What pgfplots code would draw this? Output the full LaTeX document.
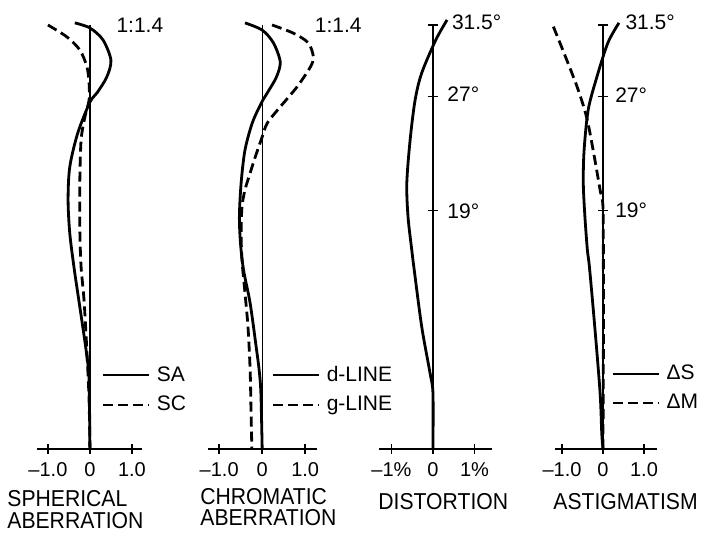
\documentclass[border=0pt]{standalone}
\usepackage{fontspec}
\setmainfont{Liberation Sans}
\newfontfamily\titlefont{Liberation Sans}[FakeStretch=0.92]
\usepackage{pgfplots}
\pgfplotsset{compat=1.18}
\tikzset{lab/.style={font=\fontsize{10.5}{12}\selectfont, inner sep=0pt}}
\pgfplotsset{
  curve/.style={black, line width=1.4pt, smooth, no marks, solid},
  dcurve/.style={black, line width=1.4pt, smooth, no marks, dash pattern=on 5pt off 2.5pt},
}
\begin{document}
\begin{tikzpicture}
\path[use as bounding box] (0pt,0pt) rectangle (351pt,267.5pt);
\pgfplotsset{
  aberr/.style={
    anchor=south west,
    y=212pt, ymin=0, ymax=1,
    axis lines=center,
    x axis line style={-, line width=1pt},
    y axis line style={-, line width=0.6pt},
    clip=false,
    ytick=\empty,
    xtick={-1,0,1},
    hide obscured x ticks=false,
    major tick length=5pt,
    tick align=center,
    tick style={black, line width=0.7pt},
    xticklabel style={font=\fontsize{10}{11}\selectfont, anchor=base, yshift=-11.5pt},
    legend style={draw=none, fill=none, anchor=west, font=\fontsize{10.5}{12}\selectfont, row sep=2pt, inner sep=0pt, cells={anchor=west}},
    legend image code/.code={\draw[##1, line width=0.9pt] (0pt,0pt) -- (23pt,0pt); \path (24pt,0pt);},
  },
}
% ---------- Spherical aberration
\begin{axis}[aberr, at={(18.5pt,43pt)}, x=21pt, xmin=-1.26, xmax=1.24,
  xticklabels={--1.0,0,1.0},
  legend style={at={(axis cs:0.29,0.139)}}]
\addplot[curve] coordinates {(-0.36,1.005) (0,0.993) (0.31,0.965) (0.50,0.917) (0.40,0.877) (0.17,0.840) (0,0.818) (-0.29,0.745) (-0.48,0.665) (-0.52,0.587) (-0.48,0.509) (-0.38,0.429) (-0.29,0.368) (-0.17,0.288) (-0.07,0.217) (-0.02,0.163) (0,0)};
\addlegendentry{SA}
\addplot[dcurve] coordinates {(-1.0,1.0) (-0.55,0.972) (-0.24,0.941) (-0.07,0.901) (-0.02,0.863) (-0.02,0.823) (-0.12,0.783) (-0.21,0.729) (-0.24,0.634) (-0.24,0.517) (-0.21,0.429) (-0.14,0.351) (-0.07,0.226) (-0.02,0.116) (0,0)};
\addlegendentry{SC}
\node[lab] at (axis cs:1.19,0.999) {1:1.4};
\end{axis}
% ---------- Chromatic aberration
\begin{axis}[aberr, at={(104pt,43pt)}, x=21.5pt, xmin=-1.26, xmax=1.28,
  xticklabels={--1.0,0,1.0},
  legend style={at={(axis cs:0.23,0.139)}}]
\addplot[curve] coordinates {(-0.40,1.005) (0,0.988) (0.26,0.958) (0.42,0.913) (0.33,0.877) (0.12,0.840) (-0.02,0.816) (-0.23,0.769) (-0.40,0.705) (-0.49,0.627) (-0.53,0.547) (-0.50,0.480) (-0.43,0.420) (-0.28,0.344) (-0.14,0.241) (-0.07,0.186) (-0.03,0.132) (0,0)};
\addlegendentry{d-LINE}
\addplot[dcurve] coordinates {(0.23,1.0) (0.72,0.981) (1.07,0.958) (1.19,0.925) (1.12,0.901) (0.81,0.854) (0.42,0.807) (0.12,0.769) (0,0.736) (-0.16,0.689) (-0.28,0.651) (-0.40,0.611) (-0.47,0.571) (-0.49,0.509) (-0.47,0.446) (-0.40,0.368) (-0.33,0.288) (-0.28,0.186) (-0.26,0.092) (-0.24,0)};
\addlegendentry{g-LINE}
\node[lab] at (axis cs:1.77,0.999) {1:1.4};
\end{axis}
% ---------- Distortion
\begin{axis}[aberr, at={(189.5pt,43pt)}, x=20.75pt, xmin=-1.30, xmax=1.42,
  xticklabels={--1\%,0,1\%},
  ytick={0.5619,0.8315,1}, yticklabels={\empty,\empty,\empty}]
\addplot[curve] coordinates {(0.34,1.012) (0.07,0.965) (-0.27,0.887) (-0.43,0.823) (-0.55,0.729) (-0.63,0.627) (-0.60,0.547) (-0.51,0.469) (-0.46,0.429) (-0.27,0.288) (-0.07,0.179) (0,0.132) (0,0)};
\node[lab, anchor=west] at (axis cs:0.45,1.007) {31.5°};
\node[lab, anchor=west] at (axis cs:0.34,0.837) {27°};
\node[lab, anchor=west] at (axis cs:0.34,0.561) {19°};
\end{axis}
% ---------- Astigmatism
\begin{axis}[aberr, at={(277.5pt,43pt)}, x=20.5pt, xmin=-1.17, xmax=1.32,
  xticklabels={--1.0,0,1.0},
  ytick={0.5619,0.8315,1}, yticklabels={\empty,\empty,\empty},
  legend style={at={(axis cs:0.22,0.143)}}]
\addplot[curve] coordinates {(0.39,1.005) (0.12,0.958) (-0.15,0.877) (-0.36,0.800) (-0.46,0.705) (-0.48,0.627) (-0.44,0.547) (-0.38,0.469) (-0.33,0.429) (-0.20,0.288) (-0.07,0.132) (-0.03,0.038) (0,0)};
\addlegendentry{ΔS}
\addplot[dcurve] coordinates {(-1.21,0.996) (-0.98,0.941) (-0.63,0.854) (-0.40,0.783) (-0.24,0.705) (-0.07,0.611) (0,0.571) (0.01,0.429) (0.01,0.233) (0,0)};
\addlegendentry{ΔM}
\node[lab, anchor=west] at (axis cs:0.54,1.007) {31.5°};
\node[lab, anchor=west] at (axis cs:0.29,0.835) {27°};
\node[lab, anchor=west] at (axis cs:0.29,0.564) {19°};
\end{axis}
% ---------- titles
\begin{scope}[every node/.style={inner sep=0pt, anchor=west, font=\titlefont\fontsize{11.5}{13}\selectfont}]
\node at (3.5pt,18pt) {SPHERICAL};
\node at (3.5pt,7pt) {ABERRATION};
\node at (100pt,19pt) {CHROMATIC};
\node at (100pt,8.75pt) {ABERRATION};
\node at (189pt,16.5pt) {DISTORTION};
\node at (276.5pt,16.5pt) {ASTIGMATISM};
\end{scope}
\end{tikzpicture}
\end{document}
